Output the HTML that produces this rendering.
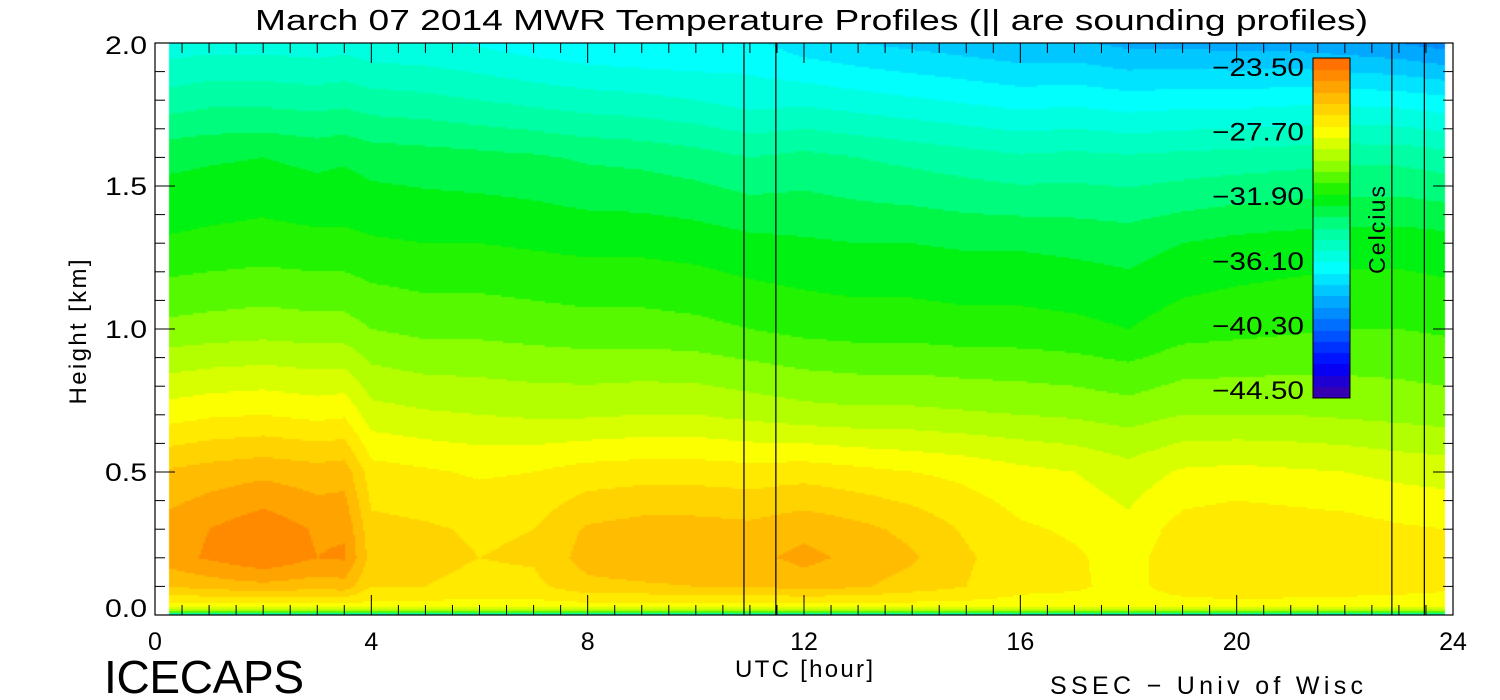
<!DOCTYPE html>
<html><head><meta charset="utf-8">
<style>
html,body{margin:0;padding:0;background:#fff;width:1500px;height:700px;overflow:hidden}
#wrap{position:relative;width:1500px;height:700px;font-family:"Liberation Sans",sans-serif;color:#000}
canvas{position:absolute;left:0;top:0}
svg{position:absolute;left:0;top:0}
</style></head>
<body>
<div id="wrap">
<canvas id="hm" width="1500" height="700"></canvas>
<svg id="ov" width="1500" height="700"></svg>
</div>
<script>
const times=[0.25,1,2,3,3.5,4,5,6,7,8,9,10,11,12,13,14,15,16,17,18,19,20,21,22,23,23.85];
const heights=[0,0.012,0.03,0.1,0.2,0.3,0.5,0.7,1.0,1.3,1.6,1.8,2.0];
// temps[timeIndex][heightIndex]
const temps=[
[-36,-30,-28,-26.3,-25.2,-25.3,-26.2,-28.0,-30.3,-31.8,-32.8,-34.4,-35.8],
[-36,-30,-28,-26.0,-24.8,-24.9,-26.0,-27.8,-30.2,-31.7,-32.7,-34.2,-35.7],
[-36,-30,-28,-25.8,-24.3,-24.4,-25.8,-27.7,-30.1,-31.6,-32.6,-34.2,-35.7],
[-36,-30,-28,-26.0,-24.9,-25.0,-26.0,-27.9,-30.2,-31.7,-32.8,-34.3,-35.8],
[-36,-30,-28,-25.9,-24.8,-25.0,-25.9,-27.8,-30.2,-31.7,-32.7,-34.2,-35.7],
[-36,-30,-28,-27.0,-26.6,-26.8,-27.4,-28.8,-30.5,-31.8,-32.9,-34.4,-35.9],
[-36,-30,-28,-27.0,-26.8,-26.9,-27.6,-29.0,-30.7,-31.9,-33.0,-34.5,-36.0],
[-36,-30,-28,-27.2,-27.0,-27.1,-27.8,-29.1,-30.7,-31.9,-33.1,-34.7,-36.2],
[-36,-30,-28,-27.2,-26.9,-27.0,-27.7,-29.2,-30.8,-32.0,-33.2,-34.9,-36.5],
[-36,-30,-28,-26.5,-26.0,-26.2,-27.4,-29.2,-30.9,-32.1,-33.4,-35.1,-36.7],
[-36,-30,-28,-26.4,-25.8,-26.0,-27.3,-29.1,-30.9,-32.1,-33.5,-35.2,-36.8],
[-36,-30,-28,-26.3,-25.7,-26.0,-27.3,-29.1,-31.0,-32.2,-33.7,-35.4,-36.8],
[-36,-30,-28,-26.3,-25.8,-26.1,-27.4,-29.3,-31.2,-32.4,-34.0,-35.7,-36.6],
[-36,-30,-28,-26.0,-25.4,-25.8,-27.3,-29.5,-31.4,-32.5,-33.8,-35.6,-37.2],
[-36,-30,-28,-26.2,-25.8,-26.1,-27.5,-29.6,-31.5,-32.6,-34.0,-35.8,-37.5],
[-36,-30,-28,-26.6,-26.2,-26.5,-27.7,-29.6,-31.5,-32.6,-34.2,-36.0,-37.7],
[-36,-30,-28,-27.0,-26.9,-27.1,-27.9,-29.7,-31.6,-32.7,-34.4,-36.2,-37.9],
[-36,-30,-28,-27.5,-27.4,-27.6,-28.2,-29.8,-31.6,-32.7,-34.6,-36.4,-38.1],
[-36,-30,-28,-27.6,-27.6,-27.8,-28.4,-29.9,-31.7,-32.8,-34.5,-36.3,-38.1],
[-36,-30,-28,-27.9,-28.0,-28.2,-28.8,-30.1,-31.9,-32.9,-34.6,-36.5,-38.4],
[-36,-30,-28,-27.4,-27.2,-27.4,-28.3,-29.8,-31.5,-32.6,-34.5,-36.4,-38.4],
[-36,-30,-28,-27.2,-27.0,-27.2,-28.2,-29.8,-31.4,-32.4,-34.4,-36.4,-38.5],
[-36,-30,-28,-27.3,-27.1,-27.3,-28.3,-29.8,-31.3,-32.3,-34.3,-36.3,-38.5],
[-36,-30,-28,-27.4,-27.2,-27.4,-28.4,-29.9,-31.2,-32.2,-34.2,-36.3,-38.7],
[-36,-30,-28,-27.5,-27.3,-27.6,-28.6,-30.0,-31.2,-32.2,-34.2,-36.4,-38.9],
[-36,-30,-28,-27.6,-27.4,-27.7,-28.7,-30.1,-31.3,-32.3,-34.4,-36.6,-39.2]];
const soundingTimes=[10.89,11.48,22.87,23.47];
const xTickLabels=["0","4","8","12","16","20","24"];
const yTickLabels=["0.0","0.5","1.0","1.5","2.0"];
const cbLabels=["-23.50","-27.70","-31.90","-36.10","-40.30","-44.50"];
const tMin=-44.5,tMax=-23.5;

const X0=155,X1=1453,Y0=615,Y1=43;
const xs=h=>X0+(X1-X0)*h/24;
const ys=k=>Y0-(Y0-Y1)*k/2;
const stops=[[-44.5,[64,0,160]],[-42.5,[0,0,255]],[-40.3,[0,96,255]],[-36.5,[0,255,255]],[-34,[0,255,150]],[-32,[0,240,0]],[-30,[150,255,0]],[-28,[255,255,0]],[-26,[255,190,0]],[-23.5,[255,100,0]]];
function color(t){
  const lv=0.7; t=tMin+Math.floor((t-tMin)/lv)*lv+lv/2;
  t=Math.max(tMin,Math.min(tMax,t));
  for(let i=0;i<stops.length-1;i++){const a=stops[i],b=stops[i+1];
    if(t<=b[0]){const f=(t-a[0])/(b[0]-a[0]);return 'rgb('+a[1].map((v,j)=>Math.round(v+(b[1][j]-v)*f)).join(',')+')';}}
  return 'rgb(255,100,0)';
}
function interp(arr,v){for(let i=0;i<arr.length-1;i++){if(v<=arr[i+1])return [i,(v-arr[i])/(arr[i+1]-arr[i])];}return [arr.length-2,1];}
function val(h,k){const [i,fi]=interp(times,h),[j,fj]=interp(heights,k);
  const a=temps[i][j],b=temps[i+1][j],c=temps[i][j+1],d=temps[i+1][j+1];
  return (a*(1-fi)+b*fi)*(1-fj)+(c*(1-fi)+d*fi)*fj;}
const ctx=document.getElementById('hm').getContext('2d');
const px0=Math.round(xs(times[0])),px1=Math.round(xs(times[times.length-1]));
const step=2;
for(let x=px0;x<px1;x+=step){const h=(x+step/2-X0)/(X1-X0)*24;
  for(let y=Y1;y<Y0-1;y+=step){const k=(Y0-(y+step/2))/(Y0-Y1)*2;
    ctx.fillStyle=color(val(h,Math.max(0,k)));ctx.fillRect(x,y,step,step);}}
const CB={x:1313,w:37,top:58,bot:398};
for(let y=CB.top;y<CB.bot;y++){const t=tMax-(y-CB.top)/(CB.bot-CB.top)*(tMax-tMin);ctx.fillStyle=color(t);ctx.fillRect(CB.x,y,CB.w,1);}

const svg=document.getElementById('ov');const NS='http://www.w3.org/2000/svg';
function mk(tag,attrs,text){const e=document.createElementNS(NS,tag);for(const k in attrs)e.setAttribute(k,attrs[k]);if(text!==undefined)e.textContent=text;svg.appendChild(e);return e;}
let e;
for(const s of soundingTimes){e=mk('line',{x1:xs(s),x2:xs(s),y1:Y1,y2:Y0,stroke:'#000','stroke-width':1.2});

}
e=mk('rect',{x:X0,y:Y1,width:X1-X0,height:Y0-Y1,fill:'none',stroke:'#000','stroke-width':1.2});


for(let h=0;h<=24;h+=0.5){const maj=h%4===0;const L=maj?20:10;
  mk('line',{x1:xs(h),x2:xs(h),y1:Y0,y2:Y0-L,stroke:'#000'});
  mk('line',{x1:xs(h),x2:xs(h),y1:Y1,y2:Y1+L,stroke:'#000'});}
for(let k=0;k<=20;k++){const maj=k%5===0;const L=maj?20:10;const y=ys(k/10);
  mk('line',{x1:X0,x2:X0+L,y1:y,y2:y,stroke:'#000'});
  mk('line',{x1:X1,x2:X1-L,y1:y,y2:y,stroke:'#000'});}
xTickLabels.forEach((l,i)=>{e=mk('text',{x:xs(i*4),y:650,'font-size':25,'text-anchor':'middle'},l);

});
yTickLabels.forEach((l,i)=>{e=mk('text',{x:147,y:ys(i*0.5)+9-(i===0?7:0)+(i===4?2:0),'font-size':25,'text-anchor':'end','textLength':42,'lengthAdjust':'spacingAndGlyphs'},l);

});
cbLabels.forEach((l,i)=>{e=mk('text',{x:1212,y:76+i*64.6,'font-size':25,'textLength':92,'lengthAdjust':'spacingAndGlyphs'},l.replace('-','\u2212'));

});
e=mk('rect',{x:CB.x,y:CB.top,width:CB.w,height:CB.bot-CB.top,fill:'none',stroke:'#000'});


e=mk('text',{x:0,y:0,'font-size':23,'text-anchor':'middle','textLength':88,transform:'translate(1385,230) rotate(-90)'},'Celcius');


e=mk('text',{x:255,y:30,'font-size':29,'textLength':1113,'lengthAdjust':'spacingAndGlyphs'},'March 07 2014 MWR Temperature Profiles (|| are sounding profiles)');


e=mk('text',{x:0,y:0,'font-size':24,'text-anchor':'middle','textLength':145,transform:'translate(86,332) rotate(-90)'},'Height [km]');


e=mk('text',{x:735,y:677,'font-size':24,'textLength':138},'UTC [hour]');


e=mk('text',{x:104,y:693,'font-size':46,'textLength':200},'ICECAPS');


e=mk('text',{x:1050,y:694,'font-size':25,'textLength':313},'SSEC \u2212 Univ of Wisc');


</script>
</body></html>
